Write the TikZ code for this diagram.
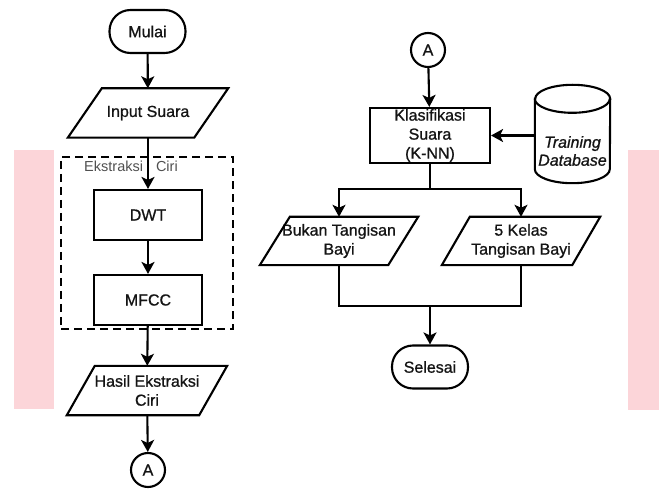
\documentclass[tikz,border=0pt]{standalone}
\usepackage{fontspec}
\setmainfont{Liberation Sans}[BoldFont=Liberation Sans, BoldFeatures={FakeBold=0.9},
  BoldItalicFont=Liberation Sans Italic, BoldItalicFeatures={FakeBold=0.9}]
\usetikzlibrary{arrows.meta,calc}
\definecolor{pinkbg}{RGB}{252,213,217}
\definecolor{txt}{RGB}{20,20,20}
\definecolor{lbl}{RGB}{80,80,80}
\begin{document}
\begin{tikzpicture}[x=1pt,y=-1pt,
  base/.style={font=\fontsize{16}{19}\selectfont\bfseries, text=txt, align=center, inner sep=0pt},
  line/.style={line width=2.1pt, draw=black},
  proc/.style={base, line, rectangle, minimum width=108pt, minimum height=50pt},
  term/.style={base, line, rectangle, rounded corners=21pt, minimum width=76pt, minimum height=43pt},
  conn/.style={base, line, circle, minimum size=34pt},
  io/.style={base, rectangle, minimum width=160pt, minimum height=49pt},
  arrow/.style={line, -{Stealth[length=12pt,width=13pt,inset=3pt]}},
  grpbox/.style={line, dash pattern=on 8pt off 5pt, rectangle, minimum width=172pt, minimum height=172pt, inner sep=0pt},
  grplabel/.style={font=\fontsize{14.5}{17}\selectfont, text=lbl, inner sep=0pt}
]
\useasboundingbox (0,0) rectangle (659,489);
\fill[pinkbg] (14,150) rectangle (54,409);
\fill[pinkbg] (628,150) rectangle (659,410);

% left column
\node[term] (mulai) at (147.5,31.5) {Mulai};
\node[io] (inp) at (148,113) {Input Suara};
\node[grpbox] (grp) at (147,243) {};
\node[grplabel] (grplbl) at (131,166) {Ekstraksi\hspace{13pt}Ciri};
\node[proc] (dwt) at (148,215) {DWT};
\node[proc] (mfcc) at (148,300) {MFCC};
\node[io] (hasil) at (147,390.5) {Hasil Ekstraksi\\Ciri};
\node[conn] (a1) at (148,470) {A};

% right column
\node[conn] (a2) at (428,50) {A};
\node[proc, minimum width=120pt, minimum height=55pt] (klas) at (430,135.5) {Klasifikasi\\Suara\\(K-NN)};
\node[rectangle, minimum width=75pt, minimum height=98pt, inner sep=0pt] (db) at (572.5,134) {};
\node[io, minimum width=158pt, minimum height=48pt] (bukan) at (339,241) {Bukan Tangisan\\Bayi};
\node[io, minimum width=158pt, minimum height=48pt] (kelas) at (521,241) {5 Kelas\\Tangisan Bayi};
\node[term] (selesai) at (430,367) {Selesai};

% parallelogram outlines
\foreach \n/\s in {inp/34, hasil/28, bukan/30, kelas/28}
  \draw[line, line join=miter] ([xshift=\s pt]\n.north west) -- (\n.north east)
     -- ([xshift=-\s pt]\n.south east) -- (\n.south west) -- cycle;

% cylinder outline
\draw[line] ([yshift=-14pt]db.north west) -- ([yshift=14pt]db.south west)
   arc[start angle=180, end angle=360, x radius=37.5pt, y radius=14pt]
   -- ([yshift=-14pt]db.north east)
   arc[start angle=0, end angle=180, x radius=37.5pt, y radius=14pt] -- cycle;
\draw[line] ([yshift=-14pt]db.north west)
   arc[start angle=180, end angle=360, x radius=37.5pt, y radius=14pt];
\node[base, font=\fontsize{16}{18}\selectfont\bfseries\itshape] (dbtext) at (572.5,151) {Training\\Database};

% connectors
\draw[arrow] (mulai) -- (inp);
\draw[arrow] (inp) -- (dwt);
\draw[arrow] (dwt) -- (mfcc);
\draw[arrow] (mfcc) -- (hasil);
\draw[arrow] (hasil) -- (a1);
\draw[arrow] (a2) -- (klas);
\draw[arrow] (db.west |- klas.east) -- (klas.east);
\coordinate (split) at (430,189);
\coordinate (merge) at (430,306);
\draw[line] (klas.south) -- (split);
\draw[arrow] (split) -| (bukan.north);
\draw[arrow] (split) -| (kelas.north);
\draw[line] (bukan.south) |- (merge);
\draw[line] (kelas.south) |- (merge);
\draw[arrow] (merge) -- (selesai);
\end{tikzpicture}
\end{document}
